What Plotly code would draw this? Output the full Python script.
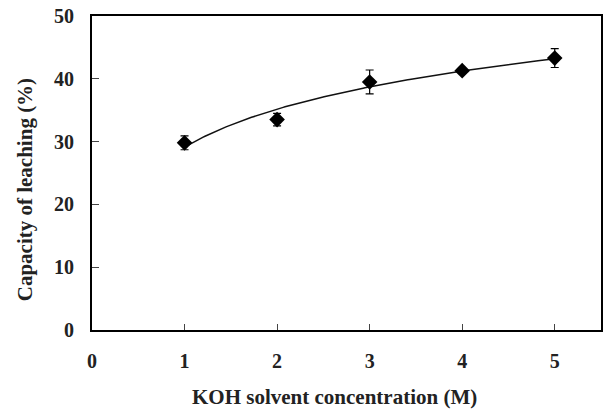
import numpy as np
import plotly.graph_objects as go

# Data
koh_conc = [1, 2, 3, 4, 5]
leaching = [29.8, 33.5, 39.5, 41.3, 43.3]
leaching_err = [1.1, 1.0, 1.9, 0.4, 1.5]
x_ticks = [0, 1, 2, 3, 4, 5]
y_ticks = [0, 10, 20, 30, 40, 50]
x_title = "KOH solvent concentration (M)"
y_title = "Capacity of leaching (%)"

# Logarithmic trendline (as in the original spreadsheet chart)
a, b = np.polyfit(np.log(koh_conc), leaching, 1)
xs = np.linspace(min(koh_conc), max(koh_conc), 200)
ys = a * np.log(xs) + b

font_family = "Liberation Serif"

fig = go.Figure()
fig.add_trace(go.Scatter(
    x=xs, y=ys, mode="lines",
    line=dict(color="#111111", width=1.5),
    hoverinfo="skip", showlegend=False,
))
fig.add_trace(go.Scatter(
    x=koh_conc, y=leaching, mode="markers",
    marker=dict(symbol="diamond", size=12, color="black"),
    error_y=dict(type="data", array=leaching_err, visible=True,
                 color="black", thickness=1.2, width=4),
    showlegend=False,
))

fig.update_layout(
    width=607, height=412,
    margin=dict(l=92, r=4, t=16, b=82),
    paper_bgcolor="white", plot_bgcolor="white",
    font=dict(family=font_family, size=20, color="black"),
    xaxis=dict(
        range=[0, 5.5], tickvals=x_ticks, ticktext=[str(v) for v in x_ticks],
        showgrid=False, zeroline=False,
        showline=True, linecolor="black", linewidth=2, mirror=True,
        ticks="inside", ticklen=6, tickwidth=1, tickcolor="#444",
        ticklabelstandoff=12,
        tickfont=dict(family=font_family, size=20, color="#222", weight="bold"),
    ),
    yaxis=dict(
        range=[0, 50], tickvals=y_ticks, ticktext=[str(v) for v in y_ticks],
        showgrid=False, zeroline=False,
        showline=True, linecolor="black", linewidth=2, mirror=True,
        ticks="inside", ticklen=7, tickwidth=1, tickcolor="#444",
        ticklabelstandoff=12,
        tickfont=dict(family=font_family, size=20, color="#222", weight="bold"),
    ),
    annotations=[
        dict(text="<b>" + x_title + "</b>", xref="paper", yref="paper",
             x=0.476, y=-0.213, xanchor="center", yanchor="middle",
             showarrow=False,
             font=dict(family=font_family, size=21, color="#222")),
        dict(text="<b>" + y_title + "</b>", xref="paper", yref="paper",
             x=-0.131, y=0.446, xanchor="center", yanchor="middle",
             textangle=-90, showarrow=False,
             font=dict(family=font_family, size=21, color="#222")),
    ],
)

fig.write_html("out.html")
